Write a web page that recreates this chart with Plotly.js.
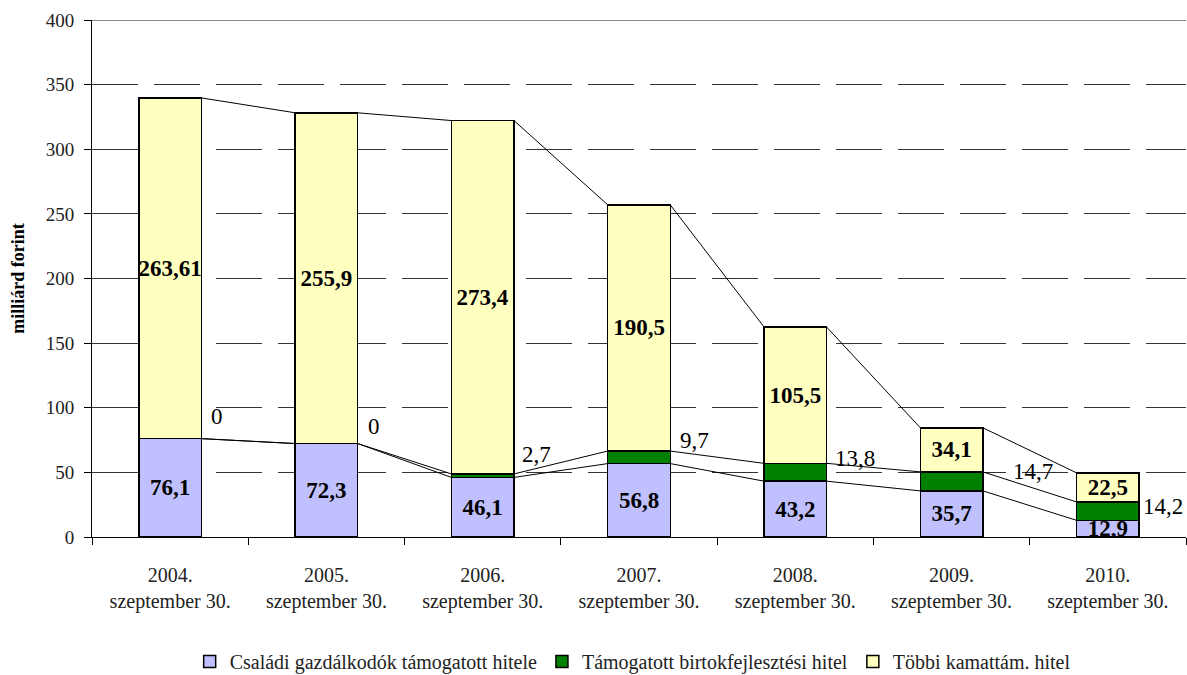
<!DOCTYPE html>
<html>
<head>
<meta charset="utf-8">
<script src="https://cdn.plot.ly/plotly-3.0.1.min.js"></script>
<style>
  html, body { margin: 0; padding: 0; background: #fff; }
  #chart { width: 1187px; height: 675px; }
</style>
</head>
<body>
<div id="chart"></div>
<script>
// dates of the stock (category labels)
const years = ['2004.', '2005.', '2006.', '2007.', '2008.', '2009.', '2010.'];
const dayLabel = 'szeptember 30.';

// milliárd forint
const csaladi = [76.1, 72.3, 46.1, 56.8, 43.2, 35.7, 12.9];
const birtok = [0, 0, 2.7, 9.7, 13.8, 14.7, 14.2];
const tobbi = [263.61, 255.9, 273.4, 190.5, 105.5, 34.1, 22.5];

const seriesNames = [
  'Családi gazdálkodók támogatott hitele',
  'Támogatott birtokfejlesztési hitel',
  'Többi kamattám. hitel'
];

// small nudges for the green labels (pixels)
const greenShiftX = [8, 8, 6, 8, 6, 28, 2];
const greenShiftY = [22, 17, 19, 11, 5, 0, -5];

const fmt = v => String(v).replace('.', ',');
const xs = years.map((y, i) => i);
const halfW = 0.2;
const serif = "'Liberation Serif', 'Times New Roman', serif";

const labelFont = { family: serif, size: 23, color: '#000', weight: 'bold' };
const greenFont = { family: serif, size: 23, color: '#000' };

const blueTrace = {
  type: 'bar',
  x: xs,
  y: csaladi,
  name: seriesNames[0],
  width: halfW * 2,
  marker: { color: '#C0C0FF', line: { color: '#000', width: 1.5 } },
  text: csaladi.map(fmt),
  textposition: 'inside',
  insidetextanchor: 'middle',
  textangle: 0,
  constraintext: 'none',
  textfont: labelFont,
  hoverinfo: 'skip'
};

const greenTrace = {
  type: 'bar',
  x: xs,
  y: birtok,
  name: seriesNames[1],
  width: halfW * 2,
  marker: { color: '#008000', line: { color: '#000', width: 1.5 } },
  textposition: 'none',
  hoverinfo: 'skip'
};

const yellowTrace = {
  type: 'bar',
  x: xs,
  y: tobbi,
  name: seriesNames[2],
  width: halfW * 2,
  marker: { color: '#FFFFC0', line: { color: '#000', width: 1.5 } },
  text: tobbi.map(fmt),
  textposition: 'inside',
  insidetextanchor: 'middle',
  textangle: 0,
  constraintext: 'none',
  textfont: labelFont,
  hoverinfo: 'skip'
};

// series lines between the stack levels of neighbouring bars
const level1 = csaladi;
const level2 = csaladi.map((v, i) => v + birtok[i]);
const level3 = level2.map((v, i) => v + tobbi[i]);

function seriesLine(levels) {
  const lx = [], ly = [];
  for (let i = 0; i < levels.length - 1; i++) {
    lx.push(xs[i] + halfW, xs[i + 1] - halfW, null);
    ly.push(levels[i], levels[i + 1], null);
  }
  return {
    type: 'scatter', mode: 'lines', x: lx, y: ly,
    line: { color: '#000', width: 1 },
    showlegend: false, hoverinfo: 'skip'
  };
}

const greenLabels = birtok.map((v, i) => ({
  x: xs[i] + halfW,
  y: level2[i],
  text: fmt(v),
  showarrow: false,
  xanchor: 'left',
  yanchor: 'middle',
  xshift: greenShiftX[i],
  yshift: greenShiftY[i],
  font: greenFont
}));

const layout = {
  width: 1187,
  height: 675,
  margin: { l: 92, r: 1, t: 20, b: 138 },
  paper_bgcolor: '#fff',
  plot_bgcolor: '#fff',
  barmode: 'stack',
  showlegend: true,
  legend: {
    orientation: 'h',
    traceorder: 'normal',
    xref: 'container', yref: 'container',
    x: 0.533, xanchor: 'center',
    y: 0.02, yanchor: 'middle',
    font: { family: serif, size: 20, color: '#222' },
    itemwidth: 30,
    tracegroupgap: 0
  },
  xaxis: {
    range: [-0.5, 6.5],
    tickvals: xs,
    ticktext: years.map(y => y + '<br>' + dayLabel),
    ticks: '',
    ticklabelstandoff: 20,
    tickfont: { family: serif, size: 20, color: '#222' },
    showline: true, linecolor: '#000', linewidth: 1,
    showgrid: false, zeroline: false,
    minor: { tick0: 0.5, dtick: 1, ticks: 'outside', ticklen: 7, tickcolor: '#000', showgrid: false },
    automargin: false,
    fixedrange: true
  },
  yaxis: {
    range: [0, 400],
    dtick: 50,
    ticks: 'outside', ticklen: 7, tickcolor: '#000',
    ticklabelstandoff: 6,
    tickfont: { family: serif, size: 19, color: '#222' },
    showline: true, linecolor: '#000', linewidth: 1,
    showgrid: true, gridcolor: '#333', gridwidth: 1, griddash: '46px,16px',
    zeroline: false,
    title: { text: 'milliárd forint', font: { family: serif, size: 18, color: '#000', weight: 'bold' }, standoff: 16 },
    automargin: false,
    fixedrange: true
  },
  shapes: [{
    type: 'line', xref: 'paper', yref: 'y',
    x0: 0, x1: 1, y0: 400, y1: 400,
    line: { color: '#888', width: 2 }
  }],
  annotations: greenLabels
};

Plotly.newPlot('chart', [blueTrace, greenTrace, yellowTrace,
  seriesLine(level1), seriesLine(level2), seriesLine(level3)], layout, { displayModeBar: false, staticPlot: true });
</script>
</body>
</html>
